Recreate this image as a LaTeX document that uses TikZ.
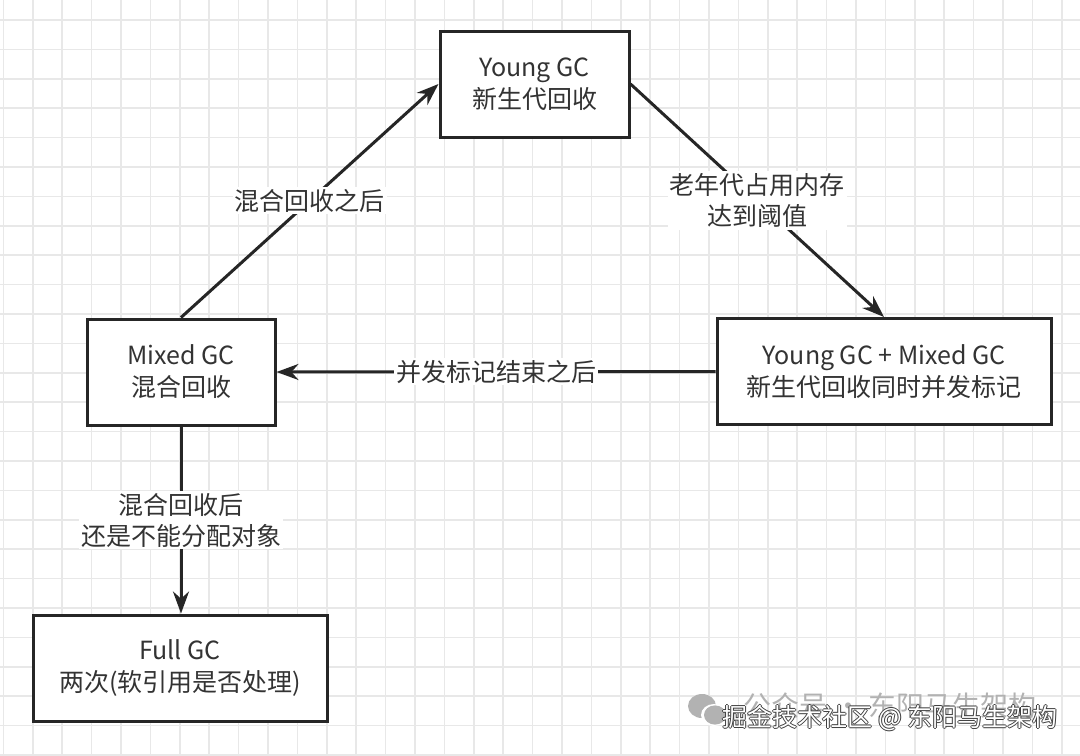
\documentclass[tikz,border=0pt]{standalone}
\usepackage{fontspec}
\setmainfont{Noto Sans CJK SC}
\usetikzlibrary{arrows.meta}

\begin{document}
\begin{tikzpicture}[>={Stealth[width=8pt,length=11pt]},
  gc/.style={draw=black!85, line width=1.5pt, fill=white, align=center, inner sep=0pt,
    minimum height=53pt, text=black!80, font=\fontsize{12.5}{16}\selectfont},
  flow/.style={->, line width=1.5pt, draw=black!85},
  lbl/.style={fill=white, align=center, inner sep=1pt, text=black!80, font=\fontsize{12.5}{15.5}\selectfont}]
  \useasboundingbox[fill=white] (0pt, 0pt) rectangle (540pt, -377.5pt);
  % grid
  \foreach \i in {0,...,36}
    \draw[black!9, line width=0.8pt] (1.65pt + \i*14.7pt, 0pt) -- ++(0pt, -377.5pt);
  \foreach \j in {0,...,25}
    \draw[black!9, line width=0.8pt] (0pt, -10pt - \j*14.7pt) -- ++(540pt, 0pt);

  \draw (267.25pt, -42.0pt)node[gc, minimum width=94.5pt](young){Young GC\\新生代回收};
  \draw (90.5pt, -186.0pt)node[gc, minimum width=94pt](mixed){Mixed GC\\混合回收};
  \draw (442.0pt, -185.75pt)node[gc, minimum width=167pt](both){Young GC + Mixed GC\\新生代回收同时并发标记};
  \draw (90.0pt, -334.0pt)node[gc, minimum width=147pt](full){Full GC\\两次(软引用是否处理)};

  \draw[flow] (mixed.north) -- (young.west) node[lbl, midway]{混合回收之后};
  \draw[flow] (young.east) -- (both.north) node[lbl, midway]{老年代占用内存\\达到阈值};
  \draw[flow] (both.west) -- (mixed.east) node[lbl, midway]{并发标记结束之后};
  \draw[flow] (mixed.south) -- (mixed.south |- full.north) node[lbl, midway]{混合回收后\\还是不能分配对象};

  % watermark
  \fill[black!30] (351pt, -353pt) ellipse (7pt and 6pt);
  \fill[white] (357pt, -357.5pt) ellipse (6.5pt and 5.5pt);
  \fill[black!30] (357.5pt, -357.5pt) ellipse (5.5pt and 4.8pt);
  \node[text=black!30, font=\fontsize{14}{14}\selectfont] (wm) at (445pt, -353pt) {公众号 · 东阳马生架构};
  \foreach \dx/\dy in {0.5/0, -0.5/0, 0/0.5, 0/-0.5}
    \node[text=black!75, font=\fontsize{12.5}{12.5}\selectfont] at (445pt + \dx pt, -359pt + \dy pt) {掘金技术社区 @ 东阳马生架构};
  \node[text=white, font=\fontsize{12.5}{12.5}\selectfont] (site) at (445pt, -359pt) {掘金技术社区 @ 东阳马生架构};
\end{tikzpicture}
\end{document}
